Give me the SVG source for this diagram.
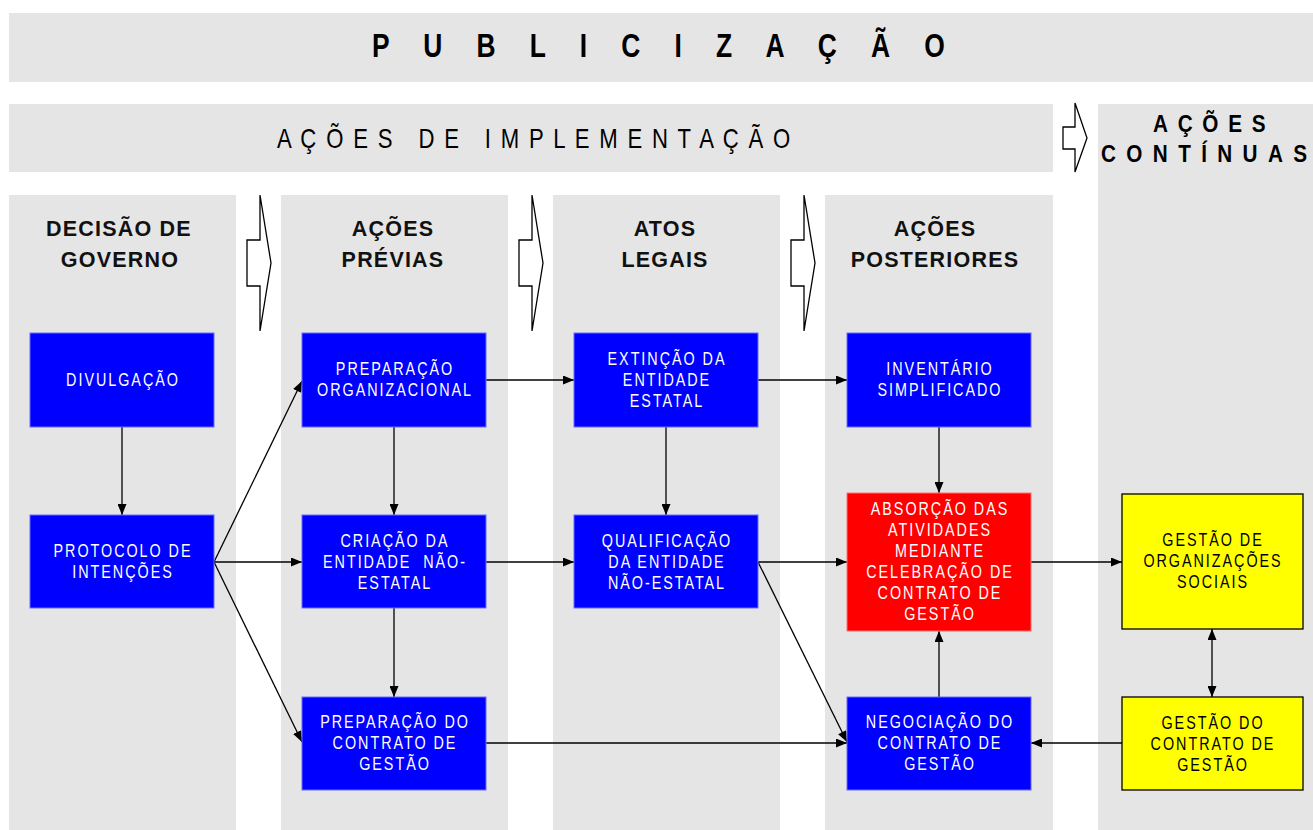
<svg xmlns="http://www.w3.org/2000/svg" width="1313" height="830" viewBox="0 0 1313 830">
<style>
.band{fill:#e5e5e5}
.chev{fill:#fff;stroke:#000;stroke-width:1.3}
.blue{fill:#0000ff;stroke:#6a6aff;stroke-width:1}
.red{fill:#ff0000;stroke:#ff7070;stroke-width:1}
.yel{fill:#ffff00;stroke:#000;stroke-width:1.3}
.bt{fill:#fff;font-family:"Liberation Sans",Arial,sans-serif;font-size:17.5px;letter-spacing:2.4px;text-anchor:middle}
.yt{fill:#000;font-family:"Liberation Sans",Arial,sans-serif;font-size:17.5px;letter-spacing:2.4px;text-anchor:middle}
.hd{fill:#111;font-family:"Liberation Sans",Arial,sans-serif;font-size:21.5px;font-weight:bold;letter-spacing:1.2px;text-anchor:middle}
.ttl{fill:#000;font-family:"Liberation Sans",Arial,sans-serif;font-weight:bold}
.sub{fill:#000;font-family:"Liberation Sans",Arial,sans-serif}
.cn line{stroke:#000;stroke-width:1.3;fill:none}
</style>
<defs>
<marker id="ah" markerUnits="userSpaceOnUse" markerWidth="11" markerHeight="9" refX="11" refY="4.5" orient="auto-start-reverse" viewBox="0 0 11 9">
<path d="M0,0 L11,4.5 L0,9 z" fill="#000"/>
</marker>
</defs>
<rect width="1313" height="830" fill="#fff"/>
<g id="bands">
<rect class="band" x="9" y="13" width="1304" height="69"/>
<rect class="band" x="9" y="104" width="1044" height="68"/>
<rect class="band" x="9" y="195" width="227" height="635"/>
<rect class="band" x="281" y="195" width="227" height="635"/>
<rect class="band" x="553" y="195" width="227" height="635"/>
<rect class="band" x="825" y="195" width="228" height="635"/>
<rect class="band" x="1098" y="104" width="215" height="726"/>
</g>
<g id="titles">
<g transform="translate(372,0) scale(0.8,1)"><text class="ttl" x="0" y="57" font-size="33" textLength="716" lengthAdjust="spacing">P U B L I C I Z A Ç Ã O</text></g>
<g transform="translate(277,0) scale(0.82,1)"><text class="sub" x="0" y="148" font-size="27" textLength="626" lengthAdjust="spacing" style="white-space:pre">A Ç Õ E S   D E   I M P L E M E N T A Ç Ã O</text></g>
<g transform="translate(1153,0) scale(0.9,1)"><text class="ttl" x="0" y="132" font-size="23" textLength="125" lengthAdjust="spacing">AÇÕES</text></g>
<g transform="translate(1101,0) scale(0.9,1)"><text class="ttl" x="0" y="162" font-size="23" textLength="229" lengthAdjust="spacing">CONTÍNUAS</text></g>
</g>
<g id="headings">
<text class="hd" x="119" y="236">DECISÃO DE</text>
<text class="hd" x="120" y="267">GOVERNO</text>
<text class="hd" x="393" y="236">AÇÕES</text>
<text class="hd" x="393" y="267">PRÉVIAS</text>
<text class="hd" x="665" y="236">ATOS</text>
<text class="hd" x="665" y="267">LEGAIS</text>
<text class="hd" x="935" y="236">AÇÕES</text>
<text class="hd" x="935" y="267">POSTERIORES</text>
</g>
<g id="phase-arrows">
<polygon class="chev" points="260,195 260,240 247,240 247,286 260,286 260,331 271,263"/>
<polygon class="chev" points="532,195 532,240 519,240 519,286 532,286 532,331 543,263"/>
<polygon class="chev" points="804,195 804,240 791,240 791,286 804,286 804,331 815,263"/>
<polygon class="chev" points="1075,103 1075,127 1063,127 1063,149 1075,149 1075,172 1087,138"/>
</g>
<g id="connectors" class="cn">
<line x1="122" y1="427" x2="122" y2="515" marker-end="url(#ah)"/>
<line x1="214" y1="562" x2="302" y2="381" marker-end="url(#ah)"/>
<line x1="214" y1="562" x2="302" y2="562" marker-end="url(#ah)"/>
<line x1="214" y1="562" x2="302" y2="742" marker-end="url(#ah)"/>
<line x1="394" y1="427" x2="394" y2="515" marker-end="url(#ah)"/>
<line x1="394" y1="608" x2="394" y2="697" marker-end="url(#ah)"/>
<line x1="486" y1="380" x2="574" y2="380" marker-end="url(#ah)"/>
<line x1="486" y1="562" x2="574" y2="562" marker-end="url(#ah)"/>
<line x1="486" y1="743" x2="847" y2="743" marker-end="url(#ah)"/>
<line x1="666" y1="427" x2="666" y2="515" marker-end="url(#ah)"/>
<line x1="758" y1="380" x2="847" y2="380" marker-end="url(#ah)"/>
<line x1="758" y1="562" x2="847" y2="562" marker-end="url(#ah)"/>
<line x1="758" y1="562" x2="847" y2="742" marker-end="url(#ah)"/>
<line x1="939" y1="427" x2="939" y2="493" marker-end="url(#ah)"/>
<line x1="939" y1="697" x2="939" y2="631" marker-end="url(#ah)"/>
<line x1="1031" y1="562" x2="1122" y2="562" marker-end="url(#ah)"/>
<line x1="1212" y1="629" x2="1212" y2="697" marker-start="url(#ah)" marker-end="url(#ah)"/>
<line x1="1122" y1="743" x2="1031" y2="743" marker-end="url(#ah)"/>
</g>
<g id="divulgacao">
<rect class="blue" x="30" y="333" width="184" height="94"/>
<g transform="translate(123,0) scale(0.82,1)"><text class="bt" x="0" y="386">DIVULGAÇÃO</text></g>
</g>
<g id="protocolo">
<rect class="blue" x="30" y="515" width="184" height="93"/>
<g transform="translate(123,0) scale(0.82,1)">
<text class="bt" x="0" y="557.5">PROTOCOLO DE</text>
<text class="bt" x="0" y="578.5">INTENÇÕES</text>
</g>
</g>
<g id="preparacao-org">
<rect class="blue" x="302" y="333" width="184" height="94"/>
<g transform="translate(395,0) scale(0.82,1)">
<text class="bt" x="0" y="375.5">PREPARAÇÃO</text>
<text class="bt" x="0" y="396.5">ORGANIZACIONAL</text>
</g>
</g>
<g id="criacao">
<rect class="blue" x="302" y="515" width="184" height="93"/>
<g transform="translate(395,0) scale(0.82,1)">
<text class="bt" x="0" y="547">CRIAÇÃO DA</text>
<text class="bt" x="0" y="568" style="white-space:pre">ENTIDADE  NÃO-</text>
<text class="bt" x="0" y="589">ESTATAL</text>
</g>
</g>
<g id="preparacao-contrato">
<rect class="blue" x="302" y="697" width="184" height="93"/>
<g transform="translate(395,0) scale(0.82,1)">
<text class="bt" x="0" y="728.5">PREPARAÇÃO DO</text>
<text class="bt" x="0" y="749.5">CONTRATO DE</text>
<text class="bt" x="0" y="770.5">GESTÃO</text>
</g>
</g>
<g id="extincao">
<rect class="blue" x="574" y="333" width="184" height="94"/>
<g transform="translate(667,0) scale(0.82,1)">
<text class="bt" x="0" y="365">EXTINÇÃO DA</text>
<text class="bt" x="0" y="386">ENTIDADE</text>
<text class="bt" x="0" y="407">ESTATAL</text>
</g>
</g>
<g id="qualificacao">
<rect class="blue" x="574" y="515" width="184" height="93"/>
<g transform="translate(667,0) scale(0.82,1)">
<text class="bt" x="0" y="547">QUALIFICAÇÃO</text>
<text class="bt" x="0" y="568">DA ENTIDADE</text>
<text class="bt" x="0" y="589">NÃO-ESTATAL</text>
</g>
</g>
<g id="inventario">
<rect class="blue" x="847" y="333" width="184" height="94"/>
<g transform="translate(940,0) scale(0.82,1)">
<text class="bt" x="0" y="375.5">INVENTÁRIO</text>
<text class="bt" x="0" y="396.5">SIMPLIFICADO</text>
</g>
</g>
<g id="absorcao">
<rect class="red" x="847" y="493" width="184" height="138"/>
<g transform="translate(940,0) scale(0.82,1)">
<text class="bt" x="0" y="515.5">ABSORÇÃO DAS</text>
<text class="bt" x="0" y="536.5">ATIVIDADES</text>
<text class="bt" x="0" y="557.5">MEDIANTE</text>
<text class="bt" x="0" y="578.5">CELEBRAÇÃO DE</text>
<text class="bt" x="0" y="599.5">CONTRATO DE</text>
<text class="bt" x="0" y="620.5">GESTÃO</text>
</g>
</g>
<g id="negociacao">
<rect class="blue" x="847" y="697" width="184" height="93"/>
<g transform="translate(940,0) scale(0.82,1)">
<text class="bt" x="0" y="728.5">NEGOCIAÇÃO DO</text>
<text class="bt" x="0" y="749.5">CONTRATO DE</text>
<text class="bt" x="0" y="770.5">GESTÃO</text>
</g>
</g>
<g id="gestao-os">
<rect class="yel" x="1122" y="494" width="181" height="135"/>
<g transform="translate(1213,0) scale(0.82,1)">
<text class="yt" x="0" y="546.5">GESTÃO DE</text>
<text class="yt" x="0" y="567.5">ORGANIZAÇÕES</text>
<text class="yt" x="0" y="588.5">SOCIAIS</text>
</g>
</g>
<g id="gestao-contrato">
<rect class="yel" x="1122" y="697" width="181" height="93"/>
<g transform="translate(1213,0) scale(0.82,1)">
<text class="yt" x="0" y="729">GESTÃO DO</text>
<text class="yt" x="0" y="750">CONTRATO DE</text>
<text class="yt" x="0" y="771">GESTÃO</text>
</g>
</g>
</svg>
